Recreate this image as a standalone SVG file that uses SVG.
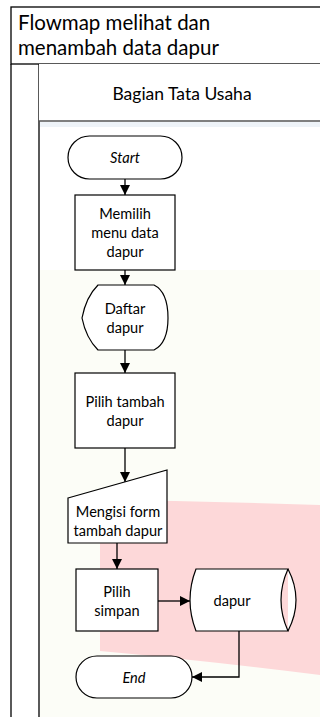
<svg xmlns="http://www.w3.org/2000/svg" width="320" height="717" viewBox="0 0 320 717">
<style>
.shape{fill:#ffffff;stroke:#000000;stroke-width:1.2}
.frame{fill:none;stroke:#000000;stroke-width:1.3}
.t{font-family:Lato,"Open Sans","Liberation Sans",sans-serif;font-size:14.6px;fill:#000;text-anchor:middle}
.title{font-family:Lato,"Open Sans","Liberation Sans",sans-serif;font-size:20.5px;fill:#000}
.it{font-style:italic}
.conn{fill:none;stroke:#000;stroke-width:1.3}
</style>
<defs>
<marker id="arr" markerUnits="userSpaceOnUse" markerWidth="10" markerHeight="10" refX="10" refY="5" orient="auto" viewBox="0 0 10 10">
<path d="M0,0 L10,5 L0,10 Z" fill="#000"/>
</marker>
</defs>
<rect x="0" y="0" width="320" height="717" fill="#ffffff"/>
<g id="background">
<rect x="40" y="270" width="280" height="447" fill="#fcfdf7"/>
<path d="M100 500 Q200 501 320 505 L320 675 Q200 660 100 651 Z" fill="#fdd8d9"/>
<rect x="40" y="122" width="280" height="5" fill="#eef3f8"/>
</g>
<g id="pool">
<rect x="11" y="7" width="320" height="57" fill="#fff" stroke="#000" stroke-width="1.3"/>
<text x="18" y="29.5" class="title">Flowmap melihat dan</text>
<text x="18" y="55" class="title">menambah data dapur</text>
<line x1="11" y1="64" x2="11" y2="717" class="frame"/>
<line x1="39" y1="64" x2="39" y2="717" class="frame"/>
</g>
<g id="lane-header">
<rect x="39" y="64" width="290" height="57" fill="#fff" stroke="none"/>
<line x1="39" y1="121" x2="320" y2="121" stroke="#555" stroke-width="1.6"/>
<text x="182" y="100" class="t" style="font-size:17.5px">Bagian Tata Usaha</text>
</g>
<g id="connectors">
<line x1="125" y1="179" x2="125" y2="195" class="conn" marker-end="url(#arr)"/>
<line x1="125" y1="270" x2="125" y2="285" class="conn" marker-end="url(#arr)"/>
<line x1="125" y1="350" x2="125" y2="373" class="conn" marker-end="url(#arr)"/>
<line x1="125" y1="448" x2="125" y2="482" class="conn" marker-end="url(#arr)"/>
<line x1="117" y1="543" x2="117" y2="569" class="conn" marker-end="url(#arr)"/>
<line x1="158" y1="601" x2="190" y2="601" class="conn" marker-end="url(#arr)"/>
<polyline points="239,631 239,677 192,677" class="conn" marker-end="url(#arr)"/>
</g>
<g id="start">
<rect x="68" y="136" width="114" height="43" rx="21.5" class="shape"/>
<text x="125" y="163" class="t it">Start</text>
</g>
<g id="memilih">
<rect x="75" y="195" width="100" height="75" class="shape"/>
<text x="125" y="219" class="t">Memilih</text>
<text x="125" y="238" class="t">menu data</text>
<text x="125" y="257" class="t">dapur</text>
</g>
<g id="daftar">
<path d="M98 285 L154 285 Q168 292 168 318 Q168 343 154 350 L98 350 Q86 338 82 318 Q86 297 98 285 Z" class="shape"/>
<text x="125" y="314" class="t">Daftar</text>
<text x="125" y="333" class="t">dapur</text>
</g>
<g id="pilih-tambah">
<rect x="75" y="373" width="100" height="75" class="shape"/>
<text x="125" y="407" class="t">Pilih tambah</text>
<text x="125" y="426" class="t">dapur</text>
</g>
<g id="mengisi">
<polygon points="68,498 167,470 167,543 68,543" class="shape"/>
<text x="118" y="517" class="t">Mengisi form</text>
<text x="118" y="535.5" class="t">tambah dapur</text>
</g>
<g id="pilih-simpan">
<rect x="76" y="569" width="82" height="62" class="shape"/>
<text x="117" y="597" class="t">Pilih</text>
<text x="117" y="615.5" class="t">simpan</text>
</g>
<g id="dapur">
<path d="M196 569 L288 569 Q274 600 288 631 L196 631 Q184 600 196 569 Z" class="shape"/>
<path d="M288 569 Q304 600 288 631" class="shape"/>
<text x="232" y="606" class="t">dapur</text>
</g>
<g id="end">
<rect x="76" y="656" width="116" height="42" rx="21" class="shape"/>
<text x="134" y="683" class="t it">End</text>
</g>
</svg>
